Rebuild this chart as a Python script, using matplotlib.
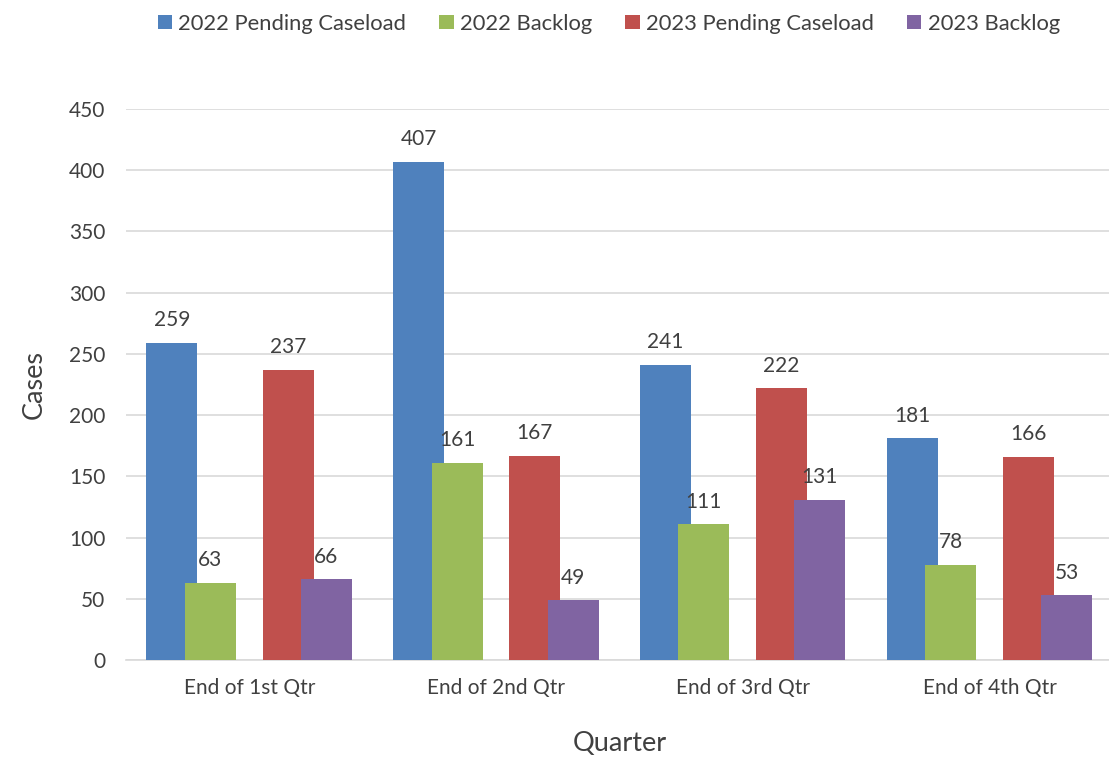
import numpy as np
import matplotlib.pyplot as plt

quarters = ['End of 1st Qtr', 'End of 2nd Qtr', 'End of 3rd Qtr', 'End of 4th Qtr']
series_names = ['2022 Pending Caseload', '2022 Backlog', '2023 Pending Caseload', '2023 Backlog']
pending_2022 = [259, 407, 241, 181]
backlog_2022 = [63, 161, 111, 78]
pending_2023 = [237, 167, 222, 166]
backlog_2023 = [66, 49, 131, 53]

colors = ['#4F81BD', '#9BBB59', '#C0504D', '#8064A2']
offsets = [-0.314, -0.158, 0.157, 0.312]
width = 0.207
text_col = '#404040'

plt.rcParams['font.family'] = ['Lato', 'DejaVu Sans']

fig = plt.figure(figsize=(11.09, 7.57), dpi=100)
ax = fig.add_axes([126 / 1109, 0.128, 987 / 1109, 0.728])

x = np.arange(len(quarters))
all_series = [pending_2022, backlog_2022, pending_2023, backlog_2023]
for vals, name, c, off in zip(all_series, series_names, colors, offsets):
    bars = ax.bar(x + off, vals, width, color=c, label=name, zorder=3)
    for b, v in zip(bars, vals):
        ax.annotate(str(v), (b.get_x() + b.get_width() / 2, v), xytext=(0, 9),
                    textcoords='offset points', ha='center', va='bottom',
                    fontsize=15, color=text_col)

ax.set_xlim(-0.5, 3.5)
ax.set_ylim(0, 450)
ax.set_yticks(range(0, 451, 50))
ax.set_xticks(x)
ax.set_xticklabels(quarters)
ax.yaxis.grid(True, color='#D9D9D9', linewidth=1.2, zorder=0)
ax.set_axisbelow(True)
for s in ['top', 'right', 'left']:
    ax.spines[s].set_visible(False)
ax.spines['bottom'].set_color('#D9D9D9')
ax.spines['bottom'].set_linewidth(1.2)
ax.tick_params(length=0, labelsize=15, labelcolor=text_col, pad=13)
ax.tick_params(axis='y', pad=15)

ax.set_ylabel('Cases', fontsize=19.5, color=text_col, labelpad=16)
ax.set_xlabel('Quarter', fontsize=19.5, color=text_col, labelpad=24)

fig.legend(loc='upper center', bbox_to_anchor=(0.549, 1.008), ncol=4, frameon=False,
           fontsize=15.8, handlelength=0.65, handleheight=0.65, handletextpad=0.3,
           columnspacing=1.5, labelcolor=text_col)

fig.savefig('out.png', dpi=100)
